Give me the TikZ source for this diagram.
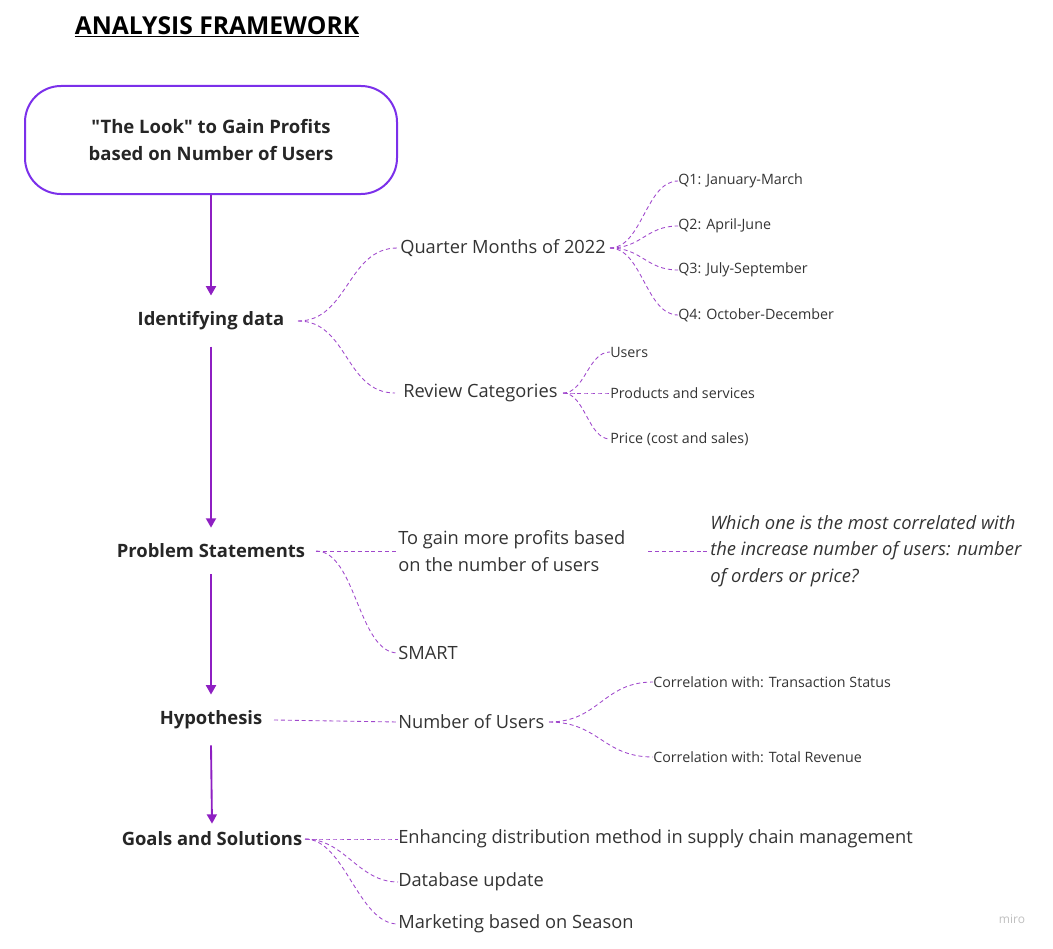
\documentclass[tikz,border=0pt]{standalone}
\usepackage{fontspec}
\setmainfont{Open Sans}[Ligatures=TeXOff]
\usetikzlibrary{arrows.meta,positioning}

\definecolor{boxviolet}{HTML}{7B30EA}
\definecolor{flowpurple}{HTML}{8E1FC2}
\definecolor{branchpurple}{HTML}{A048CC}
\definecolor{inktext}{HTML}{333333}

\tikzset{
  stage/.style={font=\bfseries\fontsize{13.8}{15}\selectfont, text=black!85, inner sep=0pt},
  leaf/.style={font=\fontsize{13.7}{20}\selectfont, text=inktext, inner sep=0pt, anchor=west, align=left},
  subleaf/.style={font=\fontsize{10.7}{12}\selectfont, text=inktext, inner sep=0pt, anchor=west},
  flow/.style={-{Triangle[width=7.5pt,length=7pt]}, flowpurple, line width=1.4pt},
  branch/.style={branchpurple, dash pattern=on 3pt off 2.2pt, line width=0.65pt}
}

\begin{document}
\begin{tikzpicture}[x=0.75pt, y=-0.75pt]
			\useasboundingbox (0,0) rectangle (1053,949);
			
			% Title
			\node (title) at (217,27) {\bfseries\fontsize{18.5}{22}\selectfont\underline{ANALYSIS FRAMEWORK}};
			
			% Main box and stages
			\node[draw=boxviolet, line width=1.5pt, rounded corners=27pt,
			      minimum width=279pt, minimum height=81pt, align=center,
			      font=\bfseries\fontsize{13.9}{20}\selectfont, text=black!85] (root) at (211,140)
			      {"The Look" to Gain Profits\\based on Number of Users};
			\node[stage] (id) at (211,321) {Identifying data};
			\node[stage] (ps) at (211,551) {Problem Statements};
			\node[stage] (hy) at (211,720) {Hypothesis};
			\node[stage] (gs) at (212,839) {Goals and Solutions};
			
			% Arrows between the stages
			\draw[flow] (root.south) -- ([yshift=12pt]id.north);
			\draw[flow] ([yshift=-12pt]id.south) -- ([yshift=12pt]ps.north);
			\draw[flow] ([yshift=-12pt]ps.south) -- ([yshift=12pt]hy.north);
			\draw[flow] ([yshift=-12pt]hy.south) -- ([yshift=6pt]gs.north);
			
			% Identifying data
			\coordinate (idout) at (298,321);
			\node[leaf] (qm) at (400,248) {Quarter Months of 2022};
			\node[leaf] (rc) at (403,393) {Review Categories};
			\draw[branch] (idout) .. controls +(50,0) and +(-50,0) .. ([xshift=-2pt]qm.west);
			\draw[branch] (idout) .. controls +(50,0) and +(-50,0) .. ([xshift=-6pt]rc.west);
			
			\coordinate (qmout) at (610,248);
			\foreach \q/\y/\t in {1/181/January-March, 2/226/April-June, 3/270/July-September, 4/315/October-December}
			{
				\node[subleaf] (Q\q) at (678,\y) {Q\q: \t};
				\draw[branch] (qmout) .. controls +(32,0) and +(-32,0) .. (Q\q.west);
			}
			
			\coordinate (rcout) at (563,393);
			\node[subleaf] (rc1) at (610,352) {Users};
			\node[subleaf] (rc2) at (610,393) {Products and services};
			\node[subleaf] (rc3) at (610,439) {Price (cost and sales)};
			\foreach \i in {1,2,3}
			\draw[branch] (rcout) .. controls +(22,0) and +(-22,0) .. (rc\i.west);
			
			% Problem Statements
			\coordinate (psout) at (316,551);
			\node[leaf] (gain) at (398,551) {To gain more profits based\\on the number of users};
			\node[leaf] (smart) at (398,653) {SMART};
			\node[leaf, font=\itshape\fontsize{13.8}{20}\selectfont] (corr) at (710,551)
			      {Which one is the most correlated with\\the increase number of users: number\\of orders or price?};
			\draw[branch] (psout) -- (gain.west);
			\draw[branch] (psout) .. controls +(40,0) and +(-40,0) .. (smart.west);
			\draw[branch] (648,551) -- (corr.west);
			
			% Hypothesis
			\node[leaf] (nu) at (398,722) {Number of Users};
			\draw[branch] (274,720) -- (nu.west);
			\coordinate (nuout) at (549,722);
			\node[subleaf] (ct) at (653,682) {Correlation with: Transaction Status};
			\node[subleaf] (cr) at (653,757) {Correlation with: Total Revenue};
			\draw[branch] (nuout) .. controls +(50,0) and +(-50,0) .. (ct.west);
			\draw[branch] (nuout) .. controls +(50,0) and +(-50,0) .. (cr.west);
			
			% Goals and Solutions
			\coordinate (gsout) at (305,839);
			\node[leaf] (g1) at (398,839) {Enhancing distribution method in supply chain management};
			\node[leaf] (g2) at (398,882) {Database update};
			\node[leaf] (g3) at (398,924) {Marketing based on Season};
			\foreach \i in {1,2,3}
			\draw[branch] (gsout) .. controls +(40,0) and +(-40,0) .. (g\i.west);
			
			\node[font=\fontsize{9}{10}\selectfont, text=black!25] (miro) at (1012,919) {miro};
		\end{tikzpicture}
\end{document}
